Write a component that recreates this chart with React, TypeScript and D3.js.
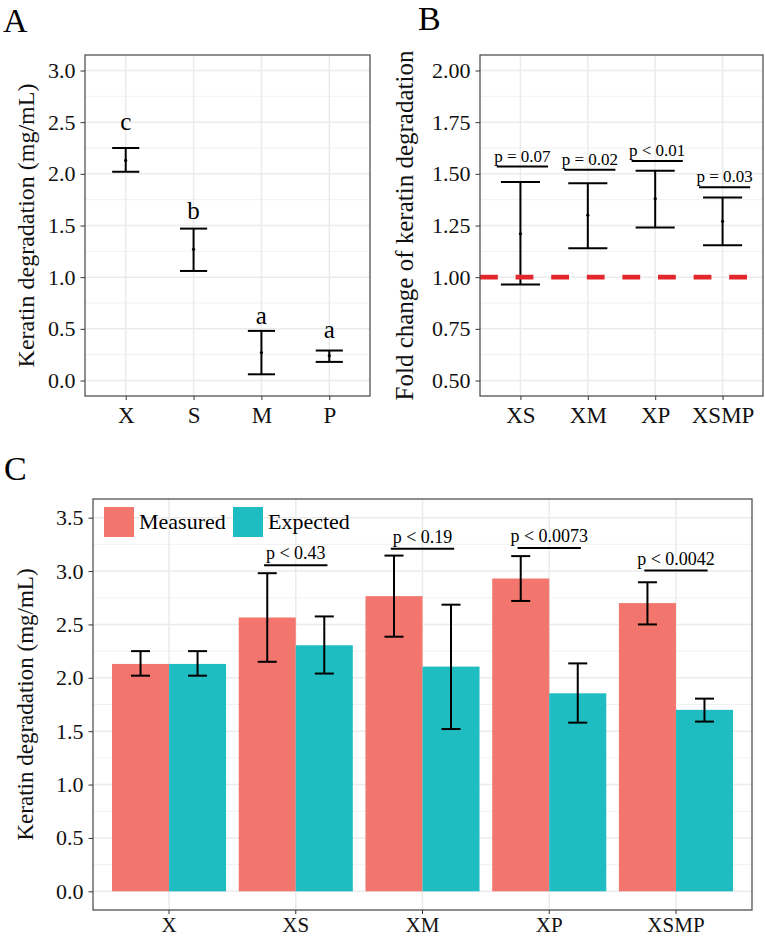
import React, { useEffect, useRef } from 'react';
import * as d3 from 'd3';

// Panel A: single cultures
const groupsA = ['X', 'S', 'M', 'P'];
const meanA = [2.13, 1.27, 0.27, 0.24];
const lowA = [2.02, 1.06, 0.06, 0.18];
const highA = [2.25, 1.47, 0.48, 0.29];
const lettersA = ['c', 'b', 'a', 'a'];
const letterPosA = [2.42, 1.56, 0.55, 0.41];

// Panel B: fold change
const groupsB = ['XS', 'XM', 'XP', 'XSMP'];
const meanB = [1.21, 1.3, 1.38, 1.27];
const lowB = [0.965, 1.14, 1.24, 1.155];
const highB = [1.46, 1.455, 1.515, 1.385];
const pTextB = ['p = 0.07', 'p = 0.02', 'p < 0.01', 'p = 0.03'];
const pLineB = [1.535, 1.52, 1.562, 1.435];

// Panel C: measured vs expected
const groupsC = ['X', 'XS', 'XM', 'XP', 'XSMP'];
const seriesC = ['Measured', 'Expected'];
const measured = [2.13, 2.565, 2.765, 2.93, 2.7];
const measuredLow = [2.02, 2.15, 2.385, 2.72, 2.5];
const measuredHigh = [2.25, 2.98, 3.145, 3.14, 2.895];
const expected = [2.13, 2.305, 2.105, 1.855, 1.7];
const expectedLow = [2.02, 2.04, 1.52, 1.58, 1.59];
const expectedHigh = [2.25, 2.575, 2.685, 2.135, 1.805];
const pTextC = ['', 'p < 0.43', 'p < 0.19', 'p < 0.0073', 'p < 0.0042'];
const pLineC = [NaN, 3.055, 3.21, 3.215, 3.005];

const FONT = '"Liberation Serif", "Times New Roman", serif';
const colors = ['#F3766E', '#1FBDC2'];

const range = (a, b, step) => d3.range(a, b + step / 2, step);

const App = () => {
  const svgRef = useRef(null);

  useEffect(() => {
    const svg = d3.select(svgRef.current);
    svg.selectAll('*').remove();

    // grid + axes for one ggplot-like panel
    const panel = (left, right, top, bottom, x, y, majors, minors, fmt, xSize, xPad) => {
      const g = svg.append('g');
      const off = x.bandwidth ? x.bandwidth() / 2 : 0;
      g.selectAll('.minor').data(minors).enter().append('line')
        .attr('x1', left).attr('x2', right)
        .attr('y1', d => y(d)).attr('y2', d => y(d))
        .attr('stroke', '#EDEDED').attr('stroke-width', 0.8);
      g.selectAll('.major').data(majors).enter().append('line')
        .attr('x1', left).attr('x2', right)
        .attr('y1', d => y(d)).attr('y2', d => y(d))
        .attr('stroke', '#EBEBEB').attr('stroke-width', 1.5);
      g.selectAll('.vgrid').data(x.domain()).enter().append('line')
        .attr('x1', d => x(d) + off).attr('x2', d => x(d) + off)
        .attr('y1', top).attr('y2', bottom)
        .attr('stroke', '#EBEBEB').attr('stroke-width', 1.5);

      const ya = g.append('g')
        .attr('transform', `translate(${left},0)`)
        .call(d3.axisLeft(y).tickValues(majors).tickFormat(fmt).tickSize(4.5).tickPadding(5));
      ya.select('.domain').remove();
      ya.selectAll('line').attr('stroke', '#333');
      ya.selectAll('text')
        .style('font-family', FONT).attr('font-size', 22).attr('fill', '#111');

      const xa = g.append('g')
        .attr('transform', `translate(0,${bottom})`)
        .call(d3.axisBottom(x).tickSize(4).tickPadding(xPad));
      xa.select('.domain').remove();
      xa.selectAll('line').attr('stroke', '#333');
      xa.selectAll('text')
        .style('font-family', FONT).attr('font-size', xSize).attr('fill', '#111')
        .attr('dy', '0.71em');
      return g;
    };

    const border = (left, right, top, bottom) => {
      svg.append('rect')
        .attr('x', left).attr('y', top)
        .attr('width', right - left).attr('height', bottom - top)
        .attr('fill', 'none').attr('stroke', '#444').attr('stroke-width', 1.2);
    };

    const errorBars = (g, xs, lows, highs, half) => {
      xs.forEach((cx, i) => {
        g.append('line').attr('x1', cx).attr('x2', cx)
          .attr('y1', lows[i]).attr('y2', highs[i]);
        g.append('line').attr('x1', cx - half).attr('x2', cx + half)
          .attr('y1', lows[i]).attr('y2', lows[i]);
        g.append('line').attr('x1', cx - half).attr('x2', cx + half)
          .attr('y1', highs[i]).attr('y2', highs[i]);
      });
      g.attr('stroke', '#000').attr('stroke-width', 2);
    };

    const panelLabel = (txt, x, y) => {
      svg.append('text').attr('x', x).attr('y', y)
        .style('font-family', FONT).attr('font-size', 34).text(txt);
    };

    const yTitle = (txt, x, y, size) => {
      svg.append('text')
        .attr('transform', `translate(${x},${y}) rotate(-90)`)
        .attr('text-anchor', 'middle')
        .style('font-family', FONT).attr('font-size', size).attr('fill', '#111')
        .text(txt);
    };

    // ---------- Panel A ----------
    const aL = 85, aR = 370, aT = 55, aB = 396;
    const xA = d3.scalePoint().domain(groupsA).range([aL, aR]).padding(0.6);
    const yA = d3.scaleLinear().domain([-0.15, 3.15]).range([aB, aT]);
    panel(aL, aR, aT, aB, xA, yA, range(0, 3, 0.5), range(0.25, 2.75, 0.5), d3.format('.1f'), 23, 7);
    const stepA = xA.step();
    errorBars(svg.append('g'), groupsA.map(d => xA(d)), lowA.map(yA), highA.map(yA), stepA * 0.2);
    svg.append('g').selectAll('circle').data(meanA).enter().append('circle')
      .attr('cx', (d, i) => xA(groupsA[i])).attr('cy', d => yA(d)).attr('r', 1.6).attr('fill', '#000');
    svg.append('g').selectAll('text').data(lettersA).enter().append('text')
      .attr('x', (d, i) => xA(groupsA[i])).attr('y', (d, i) => yA(letterPosA[i]))
      .attr('text-anchor', 'middle').style('font-family', FONT).attr('font-size', 25)
      .text(d => d);
    border(aL, aR, aT, aB);
    panelLabel('A', 3, 32);
    yTitle('Keratin degradation (mg/mL)', 34, (aT + aB) / 2, 24);

    // ---------- Panel B ----------
    const bL = 480, bR = 763, bT = 55, bB = 396;
    const xB = d3.scalePoint().domain(groupsB).range([bL, bR]).padding(0.6);
    const yB = d3.scaleLinear().domain([0.425, 2.075]).range([bB, bT]);
    panel(bL, bR, bT, bB, xB, yB, range(0.5, 2, 0.25), range(0.625, 1.875, 0.25), d3.format('.2f'), 23, 7);
    const stepB = xB.step();
    errorBars(svg.append('g'), groupsB.map(d => xB(d)), lowB.map(yB), highB.map(yB), stepB * 0.29);
    svg.append('g').selectAll('circle').data(meanB).enter().append('circle')
      .attr('cx', (d, i) => xB(groupsB[i])).attr('cy', d => yB(d)).attr('r', 1.6).attr('fill', '#000');
    svg.append('line')
      .attr('x1', bL).attr('x2', bR).attr('y1', yB(1)).attr('y2', yB(1))
      .attr('stroke', '#E3262C').attr('stroke-width', 4.7).attr('stroke-dasharray', '17.8,17.8');
    const pB = svg.append('g');
    groupsB.forEach((gname, i) => {
      const cx = xB(gname) + 2;
      pB.append('line')
        .attr('x1', cx - stepB * 0.38).attr('x2', cx + stepB * 0.38)
        .attr('y1', yB(pLineB[i])).attr('y2', yB(pLineB[i]))
        .attr('stroke', '#000').attr('stroke-width', 2);
      pB.append('text')
        .attr('x', cx).attr('y', yB(pLineB[i]) - 5)
        .attr('text-anchor', 'middle').style('font-family', FONT).attr('font-size', 17)
        .text(pTextB[i]);
    });
    border(bL, bR, bT, bB);
    panelLabel('B', 418, 30);
    yTitle('Fold change of keratin degradation', 413, (bT + bB) / 2, 25);

    // ---------- Panel C ----------
    const cL = 93, cR = 752, cT = 499, cB = 910;
    const xC = d3.scaleBand().domain(groupsC).range([cL, cR]).paddingInner(0.1).paddingOuter(0.15);
    const xSub = d3.scaleBand().domain(seriesC).range([0, xC.bandwidth()]);
    const yC = d3.scaleLinear().domain([-0.175, 3.675]).range([cB, cT]);
    panel(cL, cR, cT, cB, xC, yC, range(0, 3.5, 0.5), range(0.25, 3.25, 0.5), d3.format('.1f'), 21, 3.5);

    const rows = groupsC.map((gname, i) => ({
      gname,
      vals: [
        { s: 'Measured', v: measured[i], lo: measuredLow[i], hi: measuredHigh[i] },
        { s: 'Expected', v: expected[i], lo: expectedLow[i], hi: expectedHigh[i] },
      ],
    }));
    const color = d3.scaleOrdinal().domain(seriesC).range(colors);
    const barG = svg.append('g');
    rows.forEach(r => {
      barG.selectAll(null).data(r.vals).enter().append('rect')
        .attr('x', d => xC(r.gname) + xSub(d.s))
        .attr('y', d => yC(d.v))
        .attr('width', xSub.bandwidth())
        .attr('height', d => yC(0) - yC(d.v))
        .attr('fill', d => color(d.s));
    });
    const stepC = xC.step();
    const ebC = svg.append('g');
    rows.forEach(r => {
      const xs = r.vals.map(d => xC(r.gname) + xSub(d.s) + xSub.bandwidth() / 2);
      errorBars(ebC.append('g'), xs, r.vals.map(d => yC(d.lo)), r.vals.map(d => yC(d.hi)), stepC * 0.075);
    });
    const pC = svg.append('g');
    groupsC.forEach((gname, i) => {
      if (!pTextC[i]) return;
      const cx = xC(gname) + xC.bandwidth() / 2;
      pC.append('line')
        .attr('x1', cx - stepC * 0.25).attr('x2', cx + stepC * 0.25)
        .attr('y1', yC(pLineC[i])).attr('y2', yC(pLineC[i]))
        .attr('stroke', '#000').attr('stroke-width', 2);
      pC.append('text')
        .attr('x', cx).attr('y', yC(pLineC[i]) - 6)
        .attr('text-anchor', 'middle').style('font-family', FONT).attr('font-size', 18)
        .text(pTextC[i]);
    });

    // legend
    const leg = svg.append('g');
    const legX = [104, 233];
    seriesC.forEach((s, i) => {
      leg.append('rect').attr('x', legX[i]).attr('y', 507).attr('width', 30).attr('height', 30)
        .attr('fill', color(s));
      leg.append('text').attr('x', legX[i] + 35).attr('y', 529)
        .style('font-family', FONT).attr('font-size', 22).text(s);
    });
    border(cL, cR, cT, cB);
    panelLabel('C', 4, 480);
    yTitle('Keratin degradation (mg/mL)', 33, (cT + cB) / 2, 23);
  }, []);

  return (
    <svg
      ref={svgRef}
      width={765}
      height={940}
      style={{ position: 'absolute', left: 0, top: 0, background: '#fff' }}
    />
  );
};

export default App;
